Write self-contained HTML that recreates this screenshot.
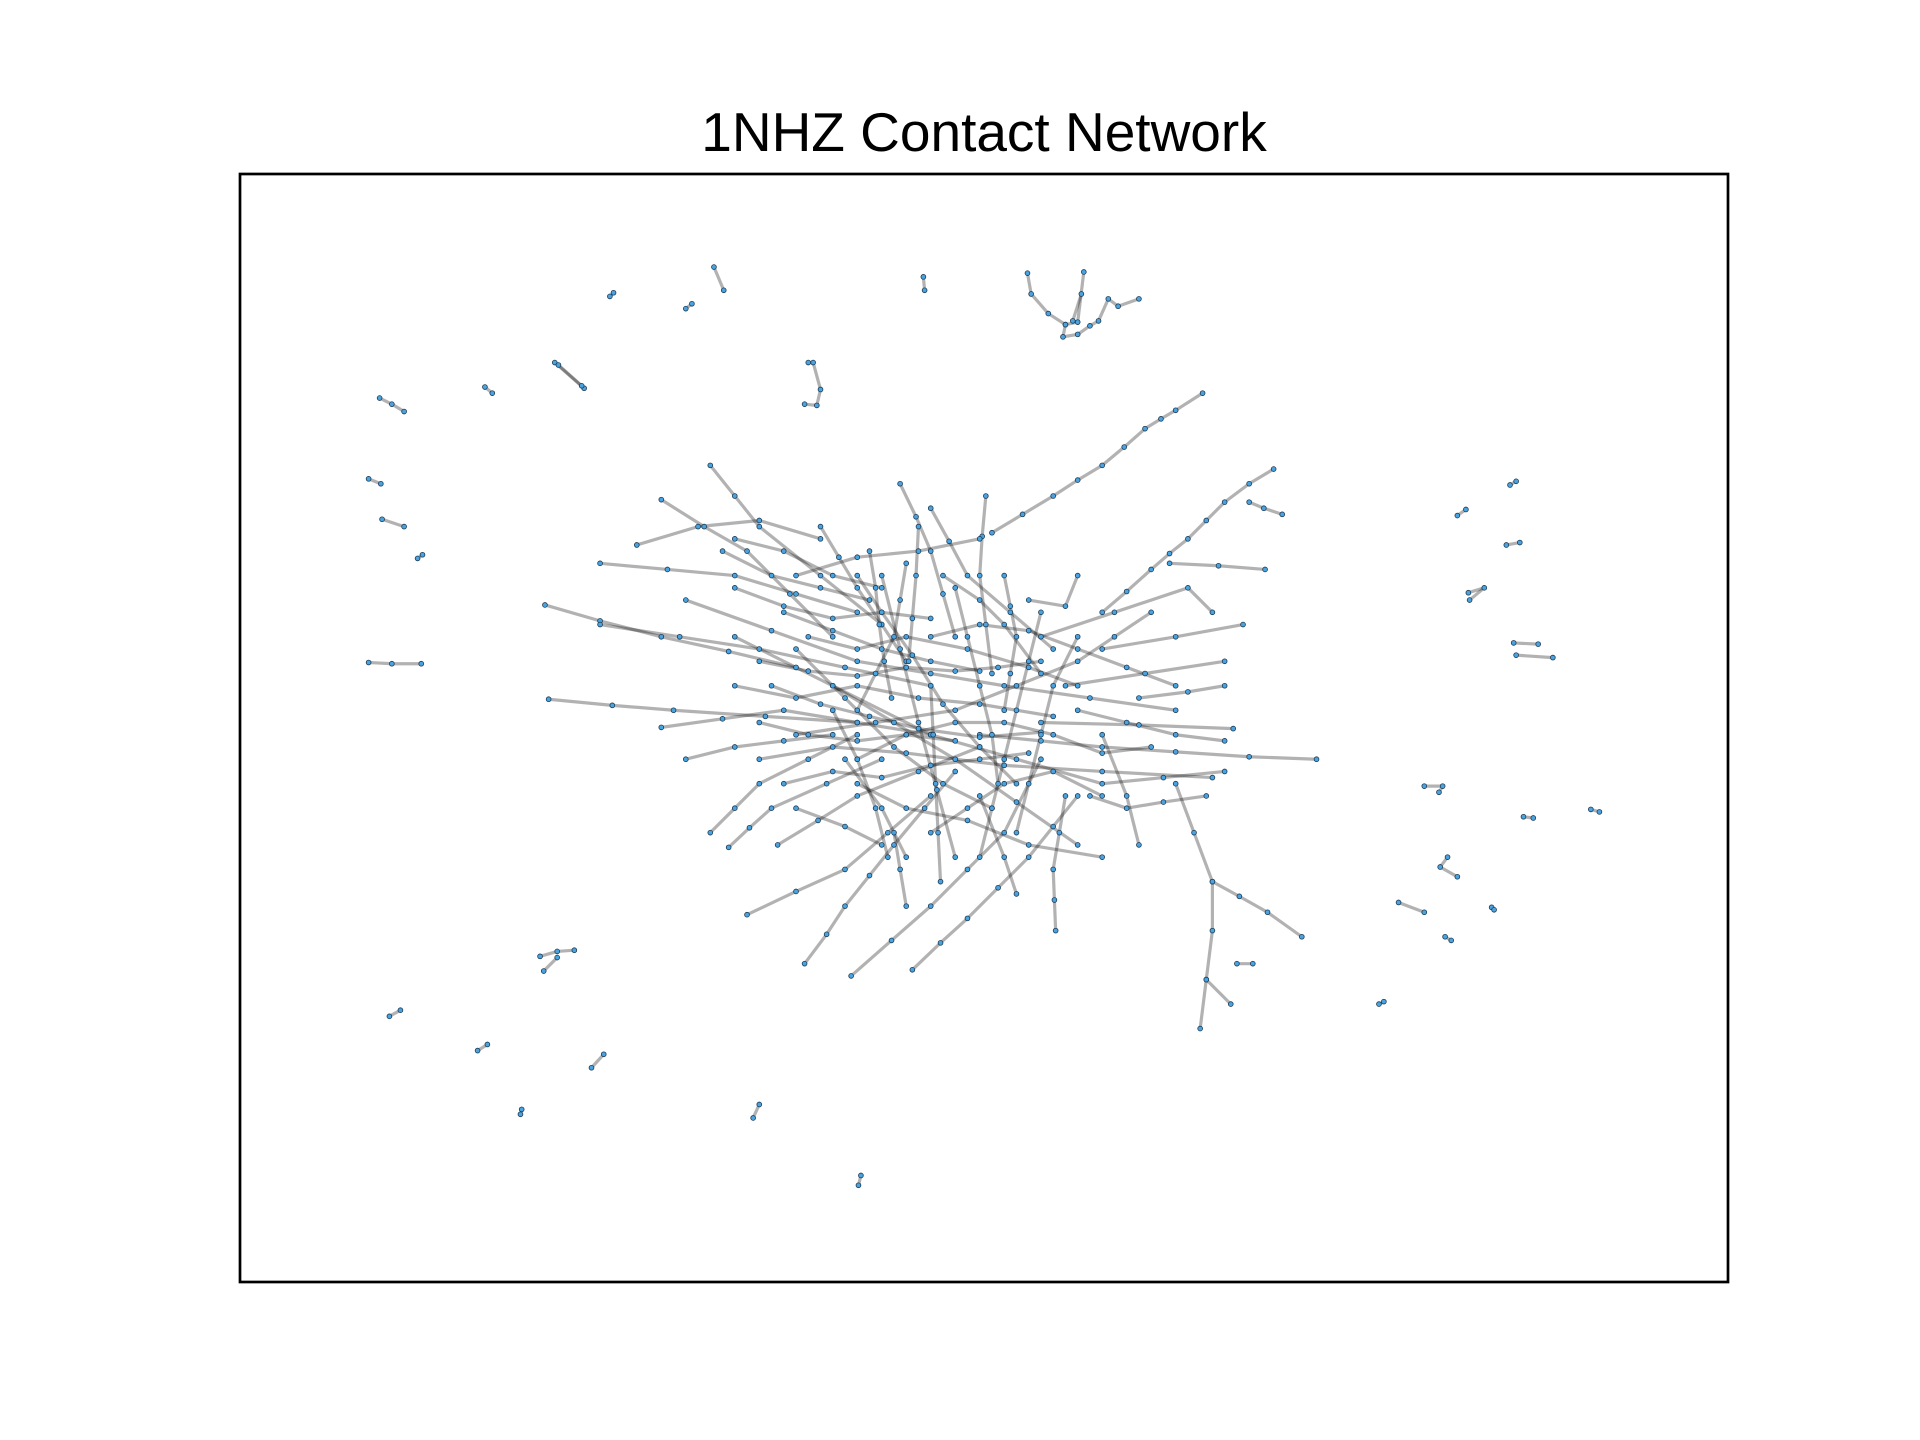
<!DOCTYPE html>
<html><head><meta charset="utf-8"><style>
html,body{margin:0;padding:0;background:#fff;}
svg{display:block;}
</style></head><body>
<svg id="chart" width="1920" height="1440" viewBox="0 0 1920 1440" xmlns="http://www.w3.org/2000/svg">
<rect x="0" y="0" width="1920" height="1440" fill="#fff"/>
<text x="984" y="151" text-anchor="middle" font-family="Liberation Sans, sans-serif" font-size="55" fill="#000">1NHZ Contact Network</text>
<g id="edges"></g>
<g id="nodes"></g>
<rect x="240" y="174" width="1488" height="1108" fill="none" stroke="#000" stroke-width="2.7"/>
</svg>
<script>
// Network paths: each path is a chain of node positions (layout coordinates)
const peripheralPaths = [
 [[583,218],[591,237]],[[498,242],[501,239]],[[560,252],[565,248]],[[754,226],[755,237]],
 [[453,296],[477,317]],[[456,298],[475,315]],
 [[660,296],[664,296],[670,318],[667,331],[657,330]],
 [[310,325],[320,330],[330,336]],[[396,316],[402,321]],[[301,391],[311,395]],
 [[312,424],[330,430]],[[341,456],[345,453]],[[301,541],[320,542],[344,542]],
 [[839,223],[842,240],[856,256],[870,265],[880,263],[885,222]],
 [[870,265],[868,275],[880,273],[890,266],[897,262],[905,244],[913,250],[930,244]],
 [[883,240],[876,262]],
 [[1190,421],[1197,416]],[[1233,396],[1238,393]],[[1230,445],[1241,443]],
 [[1199,484],[1212,480],[1200,490]],[[1236,525],[1256,526]],[[1238,535],[1268,537]],
 [[1163,642],[1178,642],[1175,647]],[[1244,667],[1252,668]],[[1299,661],[1306,663]],
 [[1182,700],[1176,708],[1190,716]],[[1142,737],[1163,745]],[[1180,765],[1185,768]],
 [[1218,741],[1220,743]],[[1126,820],[1130,818]],
 [[441,781],[455,777],[469,776]],[[444,793],[455,782]],[[318,830],[327,825]],
 [[390,858],[398,853]],[[483,872],[493,861]],[[425,910],[426,906]],
 [[615,913],[620,902]],[[701,968],[703,960]]
];
const corePaths = [
 [[810,435],[835,420],[860,405],[880,392],[900,380],[918,365],[935,350],[948,342],[960,335],[982,321]],
 [[900,500],[920,483],[940,465],[955,452],[970,440],[985,425],[1000,410],[1020,395],[1040,383]],
 [[1020,410],[1032,415],[1047,420]],[[955,460],[995,462],[1033,465]],
 [[960,640],[975,680],[990,720],[990,760],[985,800],[980,840]],
 [[990,720],[1012,732],[1035,745],[1063,765]],[[985,800],[1005,820]],[[1010,787],[1023,787]],
 [[800,600],[850,605],[900,610],[960,614],[1020,618],[1075,620]],
 [[850,590],[930,592],[1007,595]],[[870,560],[935,550],[1000,540]],
 [[900,530],[960,520],[1015,510]],[[850,520],[910,500],[970,480],[990,500]],
 [[445,494],[490,507],[540,520],[595,532],[650,545]],
 [[448,571],[500,576],[550,580],[625,585],[700,590]],
 [[490,460],[545,465],[600,470],[650,485],[700,500]],
 [[540,408],[575,430],[610,450],[645,485],[680,520]],
 [[580,380],[600,405],[620,430],[670,470],[720,510]],
 [[490,510],[555,520],[620,530],[690,545],[760,560]],
 [[540,594],[590,587],[640,580],[700,590],[760,600]],
 [[610,747],[650,728],[690,710],[725,680],[760,650]],
 [[657,787],[675,763],[690,740],[710,715],[730,690],[755,660],[780,630]],
 [[695,797],[728,768],[760,740],[790,710],[820,680],[850,620]],
 [[745,792],[768,770],[790,750],[815,725],[840,700],[860,675],[880,650]],
 [[862,760],[861,735],[860,710],[865,680],[870,650]],
 [[580,680],[600,660],[620,640],[660,620],[700,600]],
 [[595,692],[612,676],[630,660],[675,640],[720,620]],
 [[635,690],[668,670],[700,650],[750,630],[800,610]],
 [[735,395],[748,422],[760,450],[770,485],[780,520]],
 [[805,405],[802,438],[800,470],[805,510],[810,550]],
 [[670,430],[685,455],[700,480],[720,510],[740,540]],
 [[740,460],[735,490],[730,520],[715,550],[700,580]],
 [[820,470],[825,495],[830,520],[825,550],[820,580]],
 [[760,415],[775,442],[790,470],[825,500],[860,530]],
 [[560,490],[630,515],[700,540],[760,550],[820,560],[890,570],[960,580]],
 [[600,520],[680,560],[760,600],[830,620],[900,640],[950,635],[1000,630]],
 [[650,600],[715,590],[780,580],[830,560],[880,540],[910,520],[940,500]],
 [[720,470],[735,530],[750,590],[765,645],[780,700]],
 [[760,560],[762,600],[764,640],[766,680],[768,720]],
 [[680,560],[730,590],[780,620],[830,655],[880,690]],
 [[650,470],[700,455],[750,450],[800,440]],
 [[520,445],[570,430],[620,425],[670,440]],
 [[620,620],[680,610],[740,615],[820,625],[900,630],[990,635]],
 [[700,640],[740,660],[790,670],[840,690],[900,700]],
 [[660,520],[700,530],[740,520],[790,530],[840,545],[880,560]],
 [[600,560],[650,570],[700,560],[750,570],[800,575],[860,585]],
 [[730,680],[735,710],[740,740]],[[800,650],[820,700],[830,730]],
 [[900,600],[920,650],[930,690]],[[930,570],[970,565],[1000,560]],
 [[840,490],[870,495],[880,470]],[[690,620],[720,660],[740,700]],
 [[620,540],[660,548],[700,552],[740,545],[780,548],[815,545],[850,540]],
 [[630,560],[670,575],[710,585],[750,595],[800,602],[850,598]],
 [[640,500],[680,515],[720,530],[760,540],[800,548]],
 [[600,480],[640,495],[680,505],[720,500],[760,505]],
 [[650,530],[690,570],[730,610],[770,640],[810,660]],
 [[700,470],[720,500],[745,535],[770,575],[800,610],[830,640]],
 [[780,480],[790,520],[800,560],[810,600],[815,640]],
 [[850,500],[840,540],[830,580],[820,620],[810,660],[800,700]],
 [[880,520],[860,560],[850,600],[840,640],[830,680]],
 [[700,620],[740,600],[780,590],[820,590],[860,600],[900,615],[940,610]],
 [[640,640],[680,630],[720,635],[760,625],[800,620],[840,615]],
 [[620,590],[660,600],[700,605],[740,600],[780,605]],
 [[710,450],[715,480],[718,510],[722,540],[728,570]],
 [[750,430],[748,470],[745,505],[742,540]],
 [[680,580],[700,620],[715,660],[725,700]],
 [[760,520],[800,510],[840,515],[880,530],[920,545],[960,560]],
 [[590,450],[630,470],[670,480],[710,490]],
 [[560,620],[600,610],[640,605],[680,600]],
 [[760,680],[790,660],[820,640],[860,630],[900,650]],
 [[880,580],[920,590],[960,600],[1000,605]],
 [[890,650],[920,660],[950,655],[985,650]],
 [[650,660],[690,675],[720,690]],
 [[770,470],[800,490],[820,510],[850,550]],
 [[600,440],[640,450],[680,470],[720,480]]
];

const X0=196, X1=1411, Y0=142, Y1=1047;
function xScale(v){return 240+(v-X0)/(X1-X0)*1488;}
function yScale(v){return 174+(v-Y0)/(Y1-Y0)*1108;}

const NS='http://www.w3.org/2000/svg';
const eg=document.getElementById('edges'), ng=document.getElementById('nodes');
function drawPaths(paths){
 paths.forEach(function(p){
  for(let i=1;i<p.length;i++){
   const l=document.createElementNS(NS,'line');
   l.setAttribute('x1',xScale(p[i-1][0]));l.setAttribute('y1',yScale(p[i-1][1]));
   l.setAttribute('x2',xScale(p[i][0]));l.setAttribute('y2',yScale(p[i][1]));
   l.setAttribute('stroke','rgba(0,0,0,0.3)');l.setAttribute('stroke-width','3.2');
   
   
   eg.appendChild(l);
  }
  p.forEach(function(pt){
   const c=document.createElementNS(NS,'circle');
   c.setAttribute('cx',xScale(pt[0]));c.setAttribute('cy',yScale(pt[1]));
   c.setAttribute('r','2.4');c.setAttribute('fill','#4aa3df');
   c.setAttribute('stroke','#1a3a55');c.setAttribute('stroke-width','0.8');
   
   
   ng.appendChild(c);
  });
 });
}
drawPaths(corePaths);
drawPaths(peripheralPaths);
</script>
</body></html>
